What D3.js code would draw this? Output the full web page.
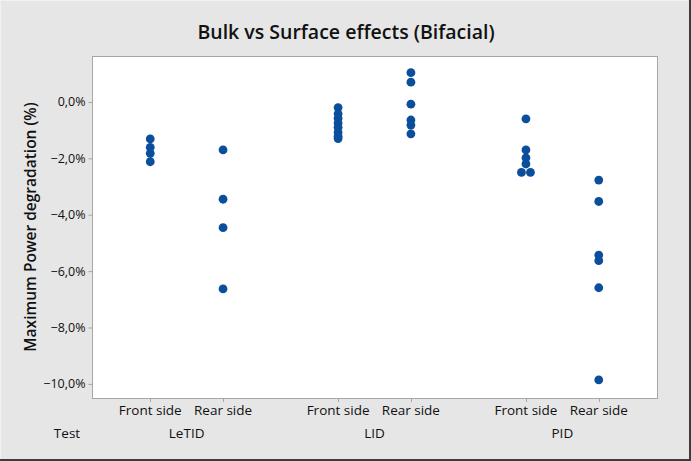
<!DOCTYPE html>
<html>
<head>
<meta charset="utf-8">
<script src="https://cdn.jsdelivr.net/npm/d3@7"></script>
<style>
  html, body { margin: 0; padding: 0; background: #e6e6e6; }
  svg { display: block; }
  text { font-family: "Open Sans", "Noto Sans", sans-serif; fill: #111; }
</style>
</head>
<body>
<svg id="chart" width="691" height="461"></svg>
<script>
// tests and sides as shown on the x axis
var tests = ["LeTID", "LID", "PID"],
    sides = ["Front side", "Rear side"],
    yTicks = [0, -2, -4, -6, -8, -10];

// max power degradation (%) per test / side
var letidFront = [-1.31, -1.61, -1.82, -2.12],
    letidRear = [-1.7, -3.45, -4.46, -6.63],
    lidFront = [-0.2, -0.42, -0.58, -0.75, -0.9, -1.08, -1.22, -1.3],
    lidRear = [1.04, 0.7, -0.08, -0.64, -0.82, -1.13],
    pidFront = [-0.6, -1.7, -1.98, -2.2, -2.5, -2.5],
    pidRear = [-2.77, -3.53, -5.43, -5.63, -6.59, -9.86];

var series = [
  [letidFront, letidRear],
  [lidFront, lidRear],
  [pidFront, pidRear]
];

var W = 691, H = 461,
    frame = {left: 92, right: 657, top: 56, bottom: 398},
    GROUP_STEP = 2.58,  // gap between tests in units of one side step
    blue = "#0b4f9c";

var svg = d3.select("#chart");

// outer border: light top/left, dark bottom/right
svg.append("rect").attr("x", 0).attr("y", 0).attr("width", W).attr("height", H)
  .attr("fill", "#e6e6e6");
svg.append("path").attr("d", "M0.5 " + H + " V0.5 H" + W)
  .attr("fill", "none").attr("stroke", "#f2f2f2");
svg.append("path").attr("d", "M0 " + (H - 1) + " H" + (W - 1) + " V0")
  .attr("fill", "none").attr("stroke", "#3c3c3c").attr("stroke-width", 2);

function xPos(g, s) { return g * GROUP_STEP + s; }

var x = d3.scaleLinear()
    .domain([-0.8, xPos(2, 1) + 0.8])
    .range([frame.left, frame.right]);

var y = d3.scaleLinear()
    .domain([1.63, -10.5])
    .range([frame.top, frame.bottom]);

// plot area
svg.append("rect")
  .attr("x", frame.left + 0.5).attr("y", frame.top + 0.5)
  .attr("width", frame.right - frame.left).attr("height", frame.bottom - frame.top)
  .attr("fill", "#fff").attr("stroke", "#a6a6a6");

// y axis
var yAxis = d3.axisLeft(y)
    .tickValues(yTicks)
    .tickSize(4)
    .tickPadding(3)
    .tickFormat(function (d) { return d3.format(".1f")(d).replace(".", ",") + "%"; });

var yg = svg.append("g")
    .attr("transform", "translate(" + (frame.left + 0.5) + ",0)")
    .call(yAxis);
yg.select(".domain").remove();
yg.selectAll(".tick line").attr("stroke", "#a6a6a6");
yg.selectAll(".tick text").attr("font-size", 12.5).attr("fill", "#111");

// x ticks and labels
var cats = [];
tests.forEach(function (t, g) {
  sides.forEach(function (s, i) {
    cats.push({test: t, side: s, g: g, i: i, values: series[g][i]});
  });
});

svg.append("g").selectAll("line").data(cats).enter().append("line")
  .attr("x1", function (d) { return Math.round(x(xPos(d.g, d.i))) + 0.5; })
  .attr("x2", function (d) { return Math.round(x(xPos(d.g, d.i))) + 0.5; })
  .attr("y1", frame.bottom + 0.5).attr("y2", frame.bottom + 4)
  .attr("stroke", "#a6a6a6");

svg.append("g").selectAll("text").data(cats).enter().append("text")
  .attr("x", function (d) { return x(xPos(d.g, d.i)); })
  .attr("y", 415)
  .attr("text-anchor", "middle")
  .attr("font-size", 13.5)
  .text(function (d) { return d.side; });

svg.append("g").selectAll("text").data(tests).enter().append("text")
  .attr("x", function (d, g) { return x(xPos(g, 0.5)); })
  .attr("y", 438)
  .attr("text-anchor", "middle")
  .attr("font-size", 13.5)
  .text(function (d) { return d; });

svg.append("text")
  .attr("x", 67).attr("y", 438)
  .attr("text-anchor", "middle")
  .attr("font-size", 13.5)
  .text("Test");

// points; equal values get spread sideways like Minitab's individual value plot
cats.forEach(function (c) {
  var seen = {};
  var pts = c.values.map(function (v) {
    var k = v.toFixed(2);
    seen[k] = (seen[k] || 0) + 1;
    return {v: v, n: seen[k]};
  });
  pts.forEach(function (p) {
    var total = c.values.filter(function (v) { return v.toFixed(2) === p.v.toFixed(2); }).length;
    p.dx = total > 1 ? (p.n - (total + 1) / 2) * 9 : 0;
  });
  svg.append("g").selectAll("circle").data(pts).enter().append("circle")
    .attr("cx", function (p) { return x(xPos(c.g, c.i)) + p.dx; })
    .attr("cy", function (p) { return y(p.v); })
    .attr("r", 4.4)
    .attr("fill", blue);
});

// titles
svg.append("text")
  .attr("x", 346).attr("y", 39)
  .attr("text-anchor", "middle")
  .attr("font-size", 19.5)
  .attr("font-weight", 600)
  .text("Bulk vs Surface effects (Bifacial)");

svg.append("text")
  .attr("transform", "translate(36," + ((frame.top + frame.bottom) / 2) + ") rotate(-90)")
  .attr("text-anchor", "middle")
  .attr("font-size", 15.5)
  .attr("font-weight", 600)
  .text("Maximum Power degradation (%)");
</script>
</body>
</html>
